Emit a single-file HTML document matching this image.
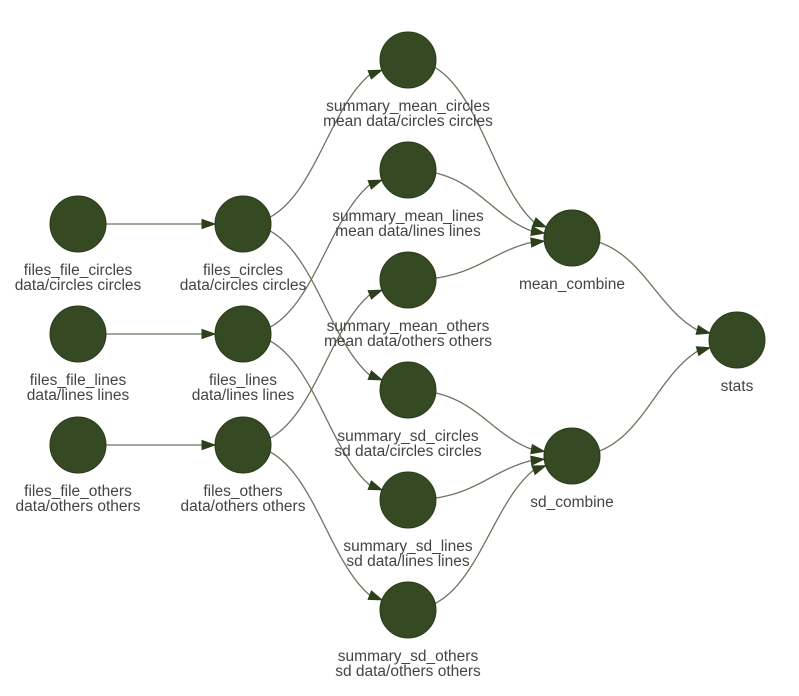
<!DOCTYPE html>
<html><head><meta charset="utf-8"><style>
html,body{margin:0;padding:0;background:#fff;}
svg{display:block;}
text{font-family:"Liberation Sans",sans-serif;font-size:15.5px;fill:#444;text-anchor:middle;}
</style></head><body>
<svg id="s" width="799" height="696" viewBox="0 0 799 696" xmlns="http://www.w3.org/2000/svg">
<g id="e"></g><g id="n"></g>
</svg>
<script>
var N={
fc:[78,224,"files_file_circles","data/circles circles"],
fl:[78,334,"files_file_lines","data/lines lines"],
fo:[78,445,"files_file_others","data/others others"],
c:[243,224,"files_circles","data/circles circles"],
l:[243,334,"files_lines","data/lines lines"],
o:[243,445,"files_others","data/others others"],
smc:[408,60,"summary_mean_circles","mean data/circles circles"],
sml:[408,170,"summary_mean_lines","mean data/lines lines"],
smo:[408,280,"summary_mean_others","mean data/others others"],
ssc:[408,390,"summary_sd_circles","sd data/circles circles"],
ssl:[408,500,"summary_sd_lines","sd data/lines lines"],
sso:[408,610,"summary_sd_others","sd data/others others"],
mc:[572,238,"mean_combine",""],
sc:[572,456,"sd_combine",""],
st:[737,340,"stats",""]};
var E=[["fc","c"],["fl","l"],["fo","o"],["c","smc"],["c","ssc"],["l","sml"],["l","ssl"],["o","smo"],["o","sso"],
["smc","mc"],["sml","mc"],["smo","mc"],["ssc","sc"],["ssl","sc"],["sso","sc"],["mc","st"],["sc","st"]];
var R=28,AL=13,eg="",ng="";
function bz(a,b,c,d,t){var u=1-t;return u*u*u*a+3*u*u*t*b+3*u*t*t*c+t*t*t*d;}
E.forEach(function(p){var A=N[p[0]],B=N[p[1]];var x1=A[0],y1=A[1],x2=B[0],y2=B[1],dx=x2-x1;
var cx1=x1+0.5*dx,cx2=x2-0.5*dx;var pts=[];
for(var i=0;i<=400;i++){var t=i/400;var x=bz(x1,cx1,cx2,x2,t),y=bz(y1,y1,y2,y2,t);
if(Math.hypot(x-x1,y-y1)<R)continue;if(Math.hypot(x-x2,y-y2)<R+AL)break;pts.push([x.toFixed(1),y.toFixed(1)]);}
var last=pts[pts.length-1];var lx=+last[0],ly=+last[1];var vx=x2-lx,vy=y2-ly,d=Math.hypot(vx,vy);vx/=d;vy/=d;
var tx=x2-vx*R,ty=y2-vy*R;var bx=tx-vx*AL,by=ty-vy*AL;var px=-vy*4.5,py=vx*4.5;
eg+='<polyline points="'+pts.map(function(q){return q.join(",")}).join(" ")+" "+bx.toFixed(1)+","+by.toFixed(1)+'" fill="none" stroke="#6b7560" stroke-width="1.3"/>';
eg+='<polygon points="'+tx+","+ty+" "+(bx+px)+","+(by+py)+" "+(bx-px)+","+(by-py)+'" fill="#2e3f1c" stroke="#2e3f1c"/>';});
for(var k in N){var a=N[k];ng+='<circle cx="'+a[0]+'" cy="'+a[1]+'" r="'+R+'" fill="#354a22" stroke="#2a3a1a"/>';
ng+='<text x="'+a[0]+'" y="'+(a[1]+51)+'">'+a[2]+'</text>';if(a[3])ng+='<text x="'+a[0]+'" y="'+(a[1]+66)+'">'+a[3]+'</text>';}
document.getElementById("e").innerHTML=eg;document.getElementById("n").innerHTML=ng;
</script>
</body></html>
